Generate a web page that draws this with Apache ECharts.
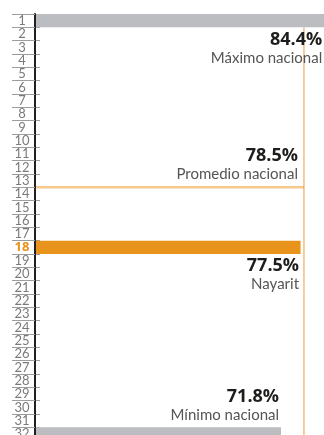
<!DOCTYPE html>
<html>
<head>
<meta charset="utf-8">
<script src="https://cdn.jsdelivr.net/npm/echarts@6.0.0/dist/echarts.min.js"></script>
<style>
  html, body { margin: 0; padding: 0; background: #ffffff; }
  #chart { width: 324px; height: 435px; }
</style>
</head>
<body>
<div id="chart"></div>
<script>
// Ranking positions (1 = highest)
const ranks = ['1', '2', '3', '4', '5', '6', '7', '8', '9', '10', '11', '12', '13', '14', '15', '16',
               '17', '18', '19', '20', '21', '22', '23', '24', '25', '26', '27', '28', '29', '30', '31', '32'];
const highlightRank = '18';

// Bars drawn on the ranking
const barRanks = ['1', '18', '32'];
const barValues = [84.4, 77.5, 71.8];
const barNames = ['Máximo nacional', 'Nayarit', 'Mínimo nacional'];

// National average
const averageValue = 78.5;
const averageName = 'Promedio nacional';
const averageBoundary = 13;   // line sits below this rank
const referenceTop = 1;       // vertical guide starts below this rank

const BOLD_FONT = '"Open Sans", "Noto Sans", sans-serif';
const FONT = 'Lato, "Open Sans", sans-serif';
const GRAY = '#bcbdc0';
const ORANGE = '#e8931c';
const LIGHT_ORANGE = '#f7c88c';
const GUIDE_ORANGE = '#eb9c3e';

const richText = {
  v: { fontFamily: BOLD_FONT, fontWeight: 'bold', fontSize: 18, color: '#1d1d1b', lineHeight: 20, align: 'right' },
  n: { fontFamily: FONT, fontSize: 15, color: '#555555', lineHeight: 17, align: 'right' }
};
const fmt = (v) => v.toFixed(1) + '%';

// Label placement per bar: below the bar for the top rows, above it for the last row
const barLabelSpots = {
  '1':  { position: ['100%', '100%'], verticalAlign: 'top', offset: [-2, 2.5] },
  '18': { position: ['100%', '100%'], verticalAlign: 'top', offset: [-1.5, 1.5] },
  '32': { position: ['100%', 0], verticalAlign: 'bottom', offset: [-2, -3.5] }
};

const barData = ranks.map(function (r) {
  const i = barRanks.indexOf(r);
  if (i < 0) return '-';
  const spot = barLabelSpots[r];
  return {
    value: barValues[i],
    itemStyle: { color: r === highlightRank ? ORANGE : GRAY },
    label: {
      show: true,
      position: spot.position,
      align: 'right',
      verticalAlign: spot.verticalAlign,
      offset: spot.offset,
      formatter: '{v|' + fmt(barValues[i]) + '}\n{n|' + barNames[i] + '}',
      rich: richText
    }
  };
});

const chart = echarts.init(document.getElementById('chart'), null, { renderer: 'canvas' });

chart.setOption({
  animation: false,
  backgroundColor: '#ffffff',
  grid: { left: 35, top: 14, width: 289.2, height: 426.7, outerBoundsMode: 'none', containLabel: false },
  xAxis: { type: 'value', min: 0, max: 84.4, show: false },
  yAxis: [
    {
      type: 'category',
      position: 'left',
      data: ranks,
      inverse: true,
      z: 5,
      axisLine: { show: true, lineStyle: { color: '#231f20', width: 2 } },
      axisTick: { show: true, interval: 0, length: 23, lineStyle: { color: '#9d9d9c', width: 1 } },
      axisLabel: {
        interval: 0,
        margin: 13,
        align: 'center',
        fontFamily: FONT,
        fontSize: 13,
        color: '#7a7a7a',
        formatter: function (v) { return v === highlightRank ? '{hl|' + v + '}' : v; },
        rich: { hl: { fontFamily: BOLD_FONT, fontSize: 13, fontWeight: 'bold', color: ORANGE } }
      },
      splitLine: { show: false }
    },
    {
      type: 'category',
      position: 'left',
      data: ranks,
      inverse: true,
      axisLine: { show: false },
      axisTick: { show: true, inside: true, interval: 0, length: 5, lineStyle: { color: '#9d9d9c', width: 1 } },
      axisLabel: { show: false },
      splitLine: { show: false }
    },
    {
      type: 'value',
      position: 'left',
      min: 0,
      max: ranks.length,
      inverse: true,
      show: false
    }
  ],
  series: [
    {
      type: 'bar',
      xAxisIndex: 0,
      yAxisIndex: 0,
      barCategoryGap: 0,
      barWidth: '100%',
      data: barData,
      z: 3
    },
    {
      // horizontal average line, labelled at its right end
      type: 'line',
      xAxisIndex: 0,
      yAxisIndex: 2,
      data: [
        { value: [0, averageBoundary], label: { show: false } },
        {
          value: [averageValue, averageBoundary],
          label: {
            show: true,
            position: 'top',
            distance: 0,
            align: 'right',
            verticalAlign: 'bottom',
            offset: [-6, -4],
            formatter: '{v|' + fmt(averageValue) + '}\n{n|' + averageName + '}',
            rich: richText
          }
        }
      ],
      symbol: 'circle',
      symbolSize: 1,
      showSymbol: true,
      itemStyle: { color: 'rgba(0,0,0,0)', borderWidth: 0 },
      lineStyle: { color: LIGHT_ORANGE, width: 2.5 },
      z: 2
    },
    {
      // vertical guide at the average value
      type: 'line',
      xAxisIndex: 0,
      yAxisIndex: 2,
      data: [[averageValue, referenceTop], [averageValue, ranks.length]],
      symbol: 'none',
      lineStyle: { color: GUIDE_ORANGE, width: 1 },
      z: 2
    }
  ]
});
</script>
</body>
</html>
